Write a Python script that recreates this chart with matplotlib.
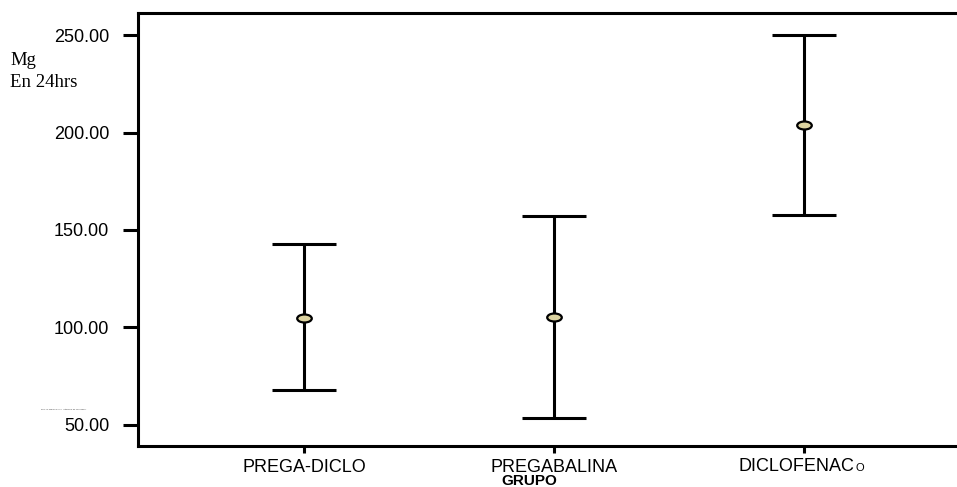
import matplotlib
matplotlib.use("Agg")
import matplotlib.pyplot as plt
from matplotlib.path import Path
from matplotlib.markers import MarkerStyle
from matplotlib.transforms import Affine2D
import numpy as np

# data
groups = ["PREGA-DICLO", "PREGABALINA", "DICLOFENACo"]
means = [105.0, 105.4, 203.8]
upper = [142.8, 157.2, 250.0]
lower = [67.9, 53.6, 157.7]
yticks = [50, 100, 150, 200, 250]

plt.rcParams['font.family'] = ['Liberation Sans', 'DejaVu Sans']

fig = plt.figure(figsize=(9.57, 4.87), dpi=100)
ax = fig.add_axes([138 / 957, 41 / 487, 1 - 138 / 957, 433 / 487])

x = np.arange(len(groups))
m = np.array(means)
yerr = [m - np.array(lower), np.array(upper) - m]

oval = MarkerStyle(Path.unit_circle().transformed(Affine2D().scale(1, 0.55)))
ax.errorbar(x, m, yerr=yerr, fmt='none', ecolor='black', elinewidth=2.2,
            capsize=22.7, capthick=2.2, zorder=2)
ax.plot(x, m, linestyle='none', marker=oval, markersize=10.5,
        markerfacecolor='#dcd3a0', markeredgecolor='black',
        markeredgewidth=1.6, zorder=3)

ax.set_xlim(-0.664, 2.612)
ax.set_ylim(39.2, 261.3)
ax.set_yticks(yticks)
ax.set_yticklabels(["%.2f" % v for v in yticks])
ax.set_xticks(x)
ax.set_xticklabels(["PREGA-DICLO", "PREGABALINA", ""])

ax.tick_params(axis='y', length=10.8, width=2.2, pad=10, labelsize=13)
ax.tick_params(axis='x', length=5, width=2.2, pad=4, labelsize=13)

# third label with its small trailing "o"
ax.text(x[2] - 0.03, -0.047, "DICLOFENAC", transform=ax.get_xaxis_transform(),
        ha='center', va='center', fontsize=13)
ax.text(x[2] + 0.205, -0.05, "O", transform=ax.get_xaxis_transform(),
        ha='left', va='center', fontsize=8)

for side in ['left', 'top', 'bottom']:
    ax.spines[side].set_linewidth(2.2)
ax.spines['right'].set_visible(False)

fig.text(529 / 957, 1 - 481 / 487, "GRUPO", ha='center', va='center',
         fontsize=11, fontweight='bold')
fig.text(10 / 957, 1 - 52 / 487, "Mg\nEn 24hrs", ha='left', va='top',
         fontsize=13.5, family=['Liberation Serif', 'DejaVu Serif'],
         linespacing=1.35)
fig.text(41 / 957, 1 - 409 / 487, "95% IC Mg En 24hrs  (intervalo de confianza)",
         ha='left', va='center', fontsize=1.6, color='#444444')

fig.savefig("out.png", dpi=100)
